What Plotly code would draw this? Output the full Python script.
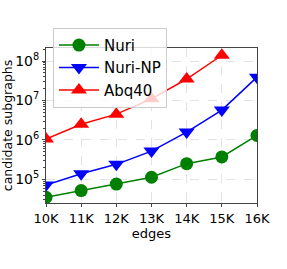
import plotly.graph_objects as go

edges = [10, 11, 12, 13, 14, 15, 16]
edge_labels = ["10K", "11K", "12K", "13K", "14K", "15K", "16K"]
nuri = [35000, 52000, 76000, 113000, 250000, 370000, 1.3e6]
nuri_np = [72000, 139000, 240000, 520000, 1.58e6, 5.7e6, 3.9e7]
abq40_x = [10, 11, 12, 13, 14, 15]
abq40 = [1.05e6, 2.5e6, 4.5e6, 1.1e7, 3.5e7, 1.4e8]

major = [1e5, 1e6, 1e7, 1e8]
major_text = ["10<sup>5</sup>", "10<sup>6</sup>", "10<sup>7</sup>", "10<sup>8</sup>"]
minor_vals = [m * 10**e for e in range(4, 9) for m in range(2, 10)]

fig = go.Figure()
fig.add_trace(go.Scatter(x=edges, y=nuri, name="Nuri", mode="lines+markers",
                         line=dict(color="green", width=1.5),
                         marker=dict(symbol="circle", size=13, color="green")))
fig.add_trace(go.Scatter(x=edges, y=nuri_np, name="Nuri-NP", mode="lines+markers",
                         line=dict(color="blue", width=1.5),
                         marker=dict(symbol="triangle-down", size=14, color="blue")))
fig.add_trace(go.Scatter(x=abq40_x, y=abq40, name="Abq40", mode="lines+markers",
                         line=dict(color="red", width=1.5),
                         marker=dict(symbol="triangle-up", size=14, color="red")))

fig.update_layout(
    width=287, height=269,
    margin=dict(l=46, r=30, t=48, b=66, autoexpand=False),
    paper_bgcolor="white", plot_bgcolor="white",
    font=dict(family="DejaVu Sans", size=12, color="black"),
    showlegend=True,
    legend=dict(x=0.033, y=1.13, xanchor="left", yanchor="top",
                bgcolor="rgba(255,255,255,0.8)", bordercolor="#cccccc", borderwidth=1,
                font=dict(size=15), itemwidth=40, tracegroupgap=0),
)
fig.update_xaxes(range=[10, 16], tickvals=edges, ticktext=edge_labels,
                 showline=True, linecolor="#444", linewidth=1, mirror=True,
                 ticks="outside", ticklen=3, tickcolor="#444",
                 showgrid=True, gridcolor="#e3e3e3", griddash="dash", gridwidth=1,
                 zeroline=False, tickfont=dict(size=13),
                 title=dict(text="edges", font=dict(size=13), standoff=2))
fig.update_yaxes(type="log", range=[4.4, 8.33], tickvals=major, ticktext=major_text,
                 showline=True, linecolor="#444", linewidth=1, mirror=True,
                 ticks="outside", ticklen=3, tickcolor="#444",
                 showgrid=True, gridcolor="#e3e3e3", griddash="dash", gridwidth=1,
                 minor=dict(tickvals=minor_vals, ticks="outside", ticklen=2, tickcolor="#444", showgrid=False),
                 zeroline=False, tickfont=dict(size=14),
                 title=dict(text="candidate subgraphs", font=dict(size=12.5), standoff=2))

fig.write_html("out.html", config={"displayModeBar": False},
               post_script="document.body.style.margin='0';")
